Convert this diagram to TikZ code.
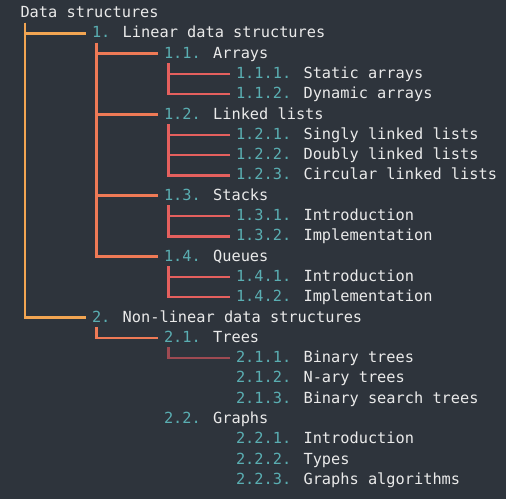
\documentclass[tikz,border=0pt]{standalone}
\usepackage{fontspec}
\usetikzlibrary{calc}
\newfontfamily\codefont{DejaVu Sans Mono}
\definecolor{bg}{HTML}{2E343C}
\definecolor{txt}{HTML}{EAEAEA}
\definecolor{num}{HTML}{5AAEB2}
\definecolor{cA}{HTML}{F2A552}
\definecolor{cB}{HTML}{EF7A56}
\definecolor{cC}{HTML}{E5605E}
\definecolor{cD}{HTML}{9E4A52}
\tikzset{
  item/.style={anchor=base west, inner sep=0pt, outer sep=0pt, text=txt,
    font=\codefont\fontsize{15.3}{18}\selectfont},
  link/.style={line width=2.5pt, line join=miter},
}
\newcommand{\nm}[1]{\textcolor{num}{#1}}
\begin{document}
\begin{tikzpicture}[x=1pt,y=-1pt]
\fill[bg] (0,0) rectangle (506,499);
\useasboundingbox (0,0) rectangle (506,499);
\def\LA{20.5}\def\LB{92}\def\LC{164}\def\LD{236}
\node[item] (r0)  at (\LA,17.5)  {Data structures};
\node[item] (r1)  at (\LB,37.8)  {\nm{1.} Linear data structures};
\node[item] (r2)  at (\LC,58.1)  {\nm{1.1.} Arrays};
\node[item] (r3)  at (\LD,78.4)  {\nm{1.1.1.} Static arrays};
\node[item] (r4)  at (\LD,98.7)  {\nm{1.1.2.} Dynamic arrays};
\node[item] (r5)  at (\LC,119.0) {\nm{1.2.} Linked lists};
\node[item] (r6)  at (\LD,139.3) {\nm{1.2.1.} Singly linked lists};
\node[item] (r7)  at (\LD,159.6) {\nm{1.2.2.} Doubly linked lists};
\node[item] (r8)  at (\LD,179.9) {\nm{1.2.3.} Circular linked lists};
\node[item] (r9)  at (\LC,200.2) {\nm{1.3.} Stacks};
\node[item] (r10) at (\LD,220.5) {\nm{1.3.1.} Introduction};
\node[item] (r11) at (\LD,240.8) {\nm{1.3.2.} Implementation};
\node[item] (r12) at (\LC,261.1) {\nm{1.4.} Queues};
\node[item] (r13) at (\LD,281.4) {\nm{1.4.1.} Introduction};
\node[item] (r14) at (\LD,301.7) {\nm{1.4.2.} Implementation};
\node[item] (r15) at (\LB,322.0) {\nm{2.} Non-linear data structures};
\node[item] (r16) at (\LC,342.3) {\nm{2.1.} Trees};
\node[item] (r17) at (\LD,362.6) {\nm{2.1.1.} Binary trees};
\node[item] (r18) at (\LD,382.9) {\nm{2.1.2.} N-ary trees};
\node[item] (r19) at (\LD,403.2) {\nm{2.1.3.} Binary search trees};
\node[item] (r20) at (\LC,423.5) {\nm{2.2.} Graphs};
\node[item] (r21) at (\LD,443.8) {\nm{2.2.1.} Introduction};
\node[item] (r22) at (\LD,464.1) {\nm{2.2.2.} Types};
\node[item] (r23) at (\LD,484.4) {\nm{2.2.3.} Graphs algorithms};
% connectors
\newcommand{\conn}[3]{%
  \draw[link,#1] ($(#2.base west)+(4.5,5)$) |- ($(#3.base west)+(-6,-4.5)$);}
\conn{cA}{r0}{r15}
\conn{cA}{r0}{r1}
\conn{cB}{r1}{r12}
\conn{cB}{r1}{r2}
\conn{cB}{r1}{r5}
\conn{cB}{r1}{r9}
\conn{cC}{r2}{r4}
\conn{cC}{r2}{r3}
\conn{cC}{r5}{r8}
\conn{cC}{r5}{r6}
\conn{cC}{r5}{r7}
\conn{cC}{r9}{r11}
\conn{cC}{r9}{r10}
\conn{cC}{r12}{r14}
\conn{cC}{r12}{r13}
\conn{cB}{r15}{r16}
\conn{cD}{r16}{r17}
\end{tikzpicture}
\end{document}
